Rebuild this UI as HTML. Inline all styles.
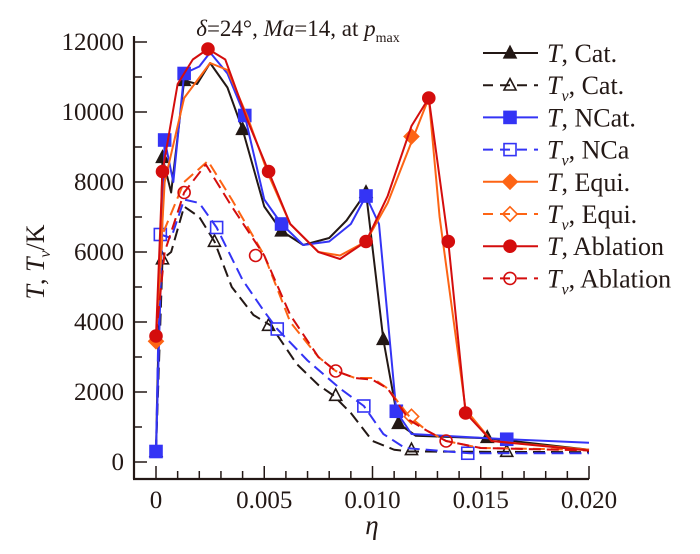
<!DOCTYPE html>
<html><head><meta charset="utf-8"><style>
html,body{margin:0;padding:0;background:#fff;}
svg, svg text, svg tspan{font-family:"Times New Roman","Liberation Serif",Times,"DejaVu Serif",serif !important;}
</style></head><body>
<svg id="chart" width="700" height="549" viewBox="0 0 700 549" xmlns="http://www.w3.org/2000/svg">
<text x="298" y="36" font-size="23" text-anchor="middle" fill="#231815"><tspan font-style="italic">δ</tspan>=24°, <tspan font-style="italic">Ma</tspan>=14, at <tspan font-style="italic">p</tspan><tspan font-size="14" dy="6">max</tspan></text>
<text transform="translate(44,262) rotate(-90)" font-size="26" text-anchor="middle" fill="#231815"><tspan font-style="italic">T</tspan>, <tspan font-style="italic">T</tspan><tspan font-style="italic" font-size="16" dy="6">v</tspan><tspan dy="-6">/K</tspan></text>
<text x="372" y="534" font-size="27" font-style="italic" text-anchor="middle" fill="#231815">η</text>
<g id="axes"></g><g id="series"></g><g id="legend"></g>
</svg>
<script>
const xTicks=[0,0.005,0.010,0.015,0.020];
const xTickLabels=["0","0.005","0.010","0.015","0.020"];
const yTicks=[0,2000,4000,6000,8000,10000,12000];
const yTickLabels=["0","2000","4000","6000","8000","10000","12000"];

const catEta=[0,0.0003,0.0007,0.0013,0.0019,0.0025,0.0033,0.0040,0.0050,0.0058,0.0068,0.0080,0.0088,0.0097,0.0105,0.0112,0.0120,0.0153,0.0200];
const catT=[300,8700,7700,10900,10800,11400,10700,9500,7300,6600,6200,6400,6900,7700,3500,1100,750,680,350];
const catMkEta=[0,0.0003,0.0013,0.0040,0.0058,0.0097,0.0105,0.0112,0.0153];
const catMkT=[300,8700,10900,9500,6600,7700,3500,1100,700];

const catVEta=[0,0.0003,0.0007,0.0013,0.0020,0.0027,0.0035,0.0045,0.0053,0.0065,0.0075,0.0082,0.0090,0.0100,0.0110,0.0117,0.0200];
const catTv=[300,5800,6000,7300,7000,6300,5000,4200,3900,2800,2200,1900,1400,600,350,300,280];
const catVMkEta=[0.0003,0.0027,0.0052,0.0083,0.0118,0.0162];
const catVMkT=[5800,6300,3900,1900,350,300];

const ncatEta=[0,0.0004,0.0008,0.0013,0.0020,0.0025,0.0033,0.0041,0.0050,0.0058,0.0068,0.0080,0.0090,0.0097,0.0103,0.0111,0.0118,0.0162,0.0200];
const ncatT=[300,9200,8000,11100,11300,11700,11100,9900,7500,6800,6200,6300,6800,7600,6800,1450,800,650,550];
const ncatMkEta=[0,0.0004,0.0013,0.0041,0.0058,0.0097,0.0111,0.0162];
const ncatMkT=[300,9200,11100,9900,6800,7600,1450,650];

const ncaVEta=[0,0.0002,0.0007,0.0013,0.0020,0.0028,0.0040,0.0050,0.0056,0.0070,0.0085,0.0096,0.0105,0.0115,0.0145,0.0200];
const ncaTv=[300,6500,6400,7500,7400,6700,5200,4300,3800,2900,2100,1600,800,400,250,250];
const ncaVMkEta=[0.0002,0.0028,0.0056,0.0096,0.0144];
const ncaVMkT=[6500,6700,3800,1600,250];

const equiEta=[0,0.0004,0.0013,0.0025,0.0033,0.0042,0.0052,0.0062,0.0075,0.0085,0.0097,0.0107,0.0119,0.0126,0.0131,0.0143,0.0155,0.0200];
const equiT=[3500,8000,10400,11400,11200,9900,8200,6800,6000,5900,6300,7400,9300,10400,7000,1500,600,350];
const equiMkEta=[0,0.0118];
const equiMkT=[3450,9300];

const equiVEta=[0,0.0003,0.0013,0.0024,0.0035,0.0050,0.0062,0.0075,0.0083,0.0092,0.0100,0.0107,0.0117,0.0125,0.0134,0.0150,0.0200];
const equiTv=[3500,6500,8000,8600,7500,5900,4000,3000,2600,2400,2400,2100,1300,900,600,400,350];
const equiVMkEta=[0.0118];
const equiVMkT=[1300];

const ablEta=[0,0.0003,0.0010,0.0017,0.0024,0.0032,0.0042,0.0052,0.0062,0.0075,0.0085,0.0097,0.0107,0.0118,0.0126,0.0135,0.0143,0.0155,0.0200];
const ablT=[3600,8300,10800,11500,11800,11500,9800,8300,6800,6000,5800,6300,7600,9600,10400,6300,1400,600,330];
const ablMkEta=[0,0.0003,0.0024,0.0052,0.0097,0.0126,0.0135,0.0143];
const ablMkT=[3600,8300,11800,8300,6300,10400,6300,1400];

const ablVEta=[0,0.0004,0.0013,0.0023,0.0035,0.0050,0.0062,0.0075,0.0083,0.0092,0.0100,0.0107,0.0117,0.0125,0.0134,0.0150,0.0200];
const ablTv=[3600,6000,7700,8500,7300,5900,4200,3000,2600,2400,2350,2100,1200,900,600,400,330];
const ablVMkEta=[0.0013,0.0046,0.0083,0.0134];
const ablVMkT=[7700,5900,2600,600];

const legendLabels=[["T",""," Cat."],["T","v"," Cat."],["T",""," NCat."],["T","v"," NCa"],["T",""," Equi."],["T","v"," Equi."],["T",""," Ablation"],["T","v"," Ablation"]];

const NS="http://www.w3.org/2000/svg";
const X0=156,X1=589,Y0=462,Y1=42;
function sx(v){return X0+(v-0)/(0.020-0)*(X1-X0);}
function sy(v){return Y0-(v-0)/(12000-0)*(Y0-Y1);}
function mk(tag,attrs,parent){const e=document.createElementNS(NS,tag);for(const k in attrs)e.setAttribute(k,attrs[k]);parent.appendChild(e);return e;}
const axes=document.getElementById('axes');
const INK="#231815";
const ySpine=mk('line',{x1:134,y1:36,x2:134,y2:479,stroke:INK,'stroke-width':2.2},axes);


const xSpine=mk('line',{x1:133,y1:479,x2:589,y2:479,stroke:INK,'stroke-width':2.2},axes);


for(let v=0;v<=0.0200001;v+=0.001){const major=Math.abs(v/0.005-Math.round(v/0.005))<1e-6;
 const t=mk('line',{x1:sx(v),y1:479,x2:sx(v),y2:479-(major?13:8),stroke:INK,'stroke-width':1.5},axes);
 
 }
xTicks.forEach((v,i)=>{const t=mk('text',{x:sx(v),y:508,'font-size':25,'text-anchor':'middle',fill:INK},axes);t.textContent=xTickLabels[i];
 
 });
for(let v=0;v<=12000;v+=1000){const major=v%2000===0;
 const t=mk('line',{x1:134,y1:sy(v),x2:134+(major?13:8),y2:sy(v),stroke:INK,'stroke-width':1.5},axes);
 
 }
yTicks.forEach((v,i)=>{const t=mk('text',{x:124,y:sy(v)+8,'font-size':25,'text-anchor':'end',fill:INK},axes);t.textContent=yTickLabels[i];
 
 });

function marker(g,type,fill,color,x,y,r){
 let e;
 if(type==='tri'){e=mk('polygon',{points:`${x},${y-r*1.1} ${x-r},${y+r*0.8} ${x+r},${y+r*0.8}`,fill:fill?color:'#fff','fill-opacity':fill?1:0,stroke:color,'stroke-width':1.6},g);}
 else if(type==='sq'){e=mk('rect',{x:x-r,y:y-r,width:2*r,height:2*r,fill:fill?color:'#fff','fill-opacity':fill?1:0,stroke:color,'stroke-width':1.6},g);}
 else if(type==='dia'){e=mk('polygon',{points:`${x},${y-r*1.2} ${x+r*1.2},${y} ${x},${y+r*1.2} ${x-r*1.2},${y}`,fill:fill?color:'#fff','fill-opacity':fill?1:0,stroke:color,'stroke-width':1.6},g);}
 else {e=mk('circle',{cx:x,cy:y,r:r,fill:fill?color:'#fff','fill-opacity':fill?1:0,stroke:color,'stroke-width':1.6},g);}
 return e;
}
const seriesDefs=[
 {name:'t-cat',ex:catEta,ey:catT,mx:catMkEta,my:catMkT,color:'#231815',dash:'',type:'tri',fill:true},
 {name:'tv-cat',ex:catVEta,ey:catTv,mx:catVMkEta,my:catVMkT,color:'#231815',dash:'12,6',type:'tri',fill:false},
 {name:'t-ncat',ex:ncatEta,ey:ncatT,mx:ncatMkEta,my:ncatMkT,color:'#3434f5',dash:'',type:'sq',fill:true},
 {name:'tv-nca',ex:ncaVEta,ey:ncaTv,mx:ncaVMkEta,my:ncaVMkT,color:'#3434f5',dash:'12,6',type:'sq',fill:false},
 {name:'t-equi',ex:equiEta,ey:equiT,mx:equiMkEta,my:equiMkT,color:'#fd6414',dash:'',type:'dia',fill:true},
 {name:'tv-equi',ex:equiVEta,ey:equiTv,mx:equiVMkEta,my:equiVMkT,color:'#fd6414',dash:'12,6',type:'dia',fill:false},
 {name:'t-ablation',ex:ablEta,ey:ablT,mx:ablMkEta,my:ablMkT,color:'#d40d0d',dash:'',type:'circ',fill:true},
 {name:'tv-ablation',ex:ablVEta,ey:ablTv,mx:ablVMkEta,my:ablVMkT,color:'#d40d0d',dash:'12,6',type:'circ',fill:false}
];
const sg=document.getElementById('series');
seriesDefs.forEach(s=>{
 const g=mk('g',{},sg);
 
 
 const pts=s.ex.map((v,i)=>sx(v)+','+sy(s.ey[i])).join(' ');
 const pl=mk('polyline',{points:pts,fill:'none',stroke:s.color,'stroke-width':2,'stroke-dasharray':s.dash,'stroke-linejoin':'round'},g);
 
 
 s.mx.forEach((v,i)=>{const m=marker(g,s.type,s.fill,s.color,sx(v),sy(s.my[i]),6);
  
  });
});
const lg=document.getElementById('legend');
seriesDefs.forEach((s,i)=>{
 const y=53+i*32.2;
 const g=mk('g',{},lg);
 
 
 mk('line',{x1:483,y1:y,x2:538,y2:y,stroke:s.color,'stroke-width':2,'stroke-dasharray':s.dash?'10,7':''},g);
 marker(g,s.type,s.fill,s.color,510,y,6);
 const t=mk('text',{x:547,y:y+9,'font-size':26,fill:INK},g);
 const L=legendLabels[i];
 let h=`<tspan font-style="italic">${L[0]}</tspan>`;
 if(L[1])h+=`<tspan font-style="italic" font-size="16" dy="7">${L[1]}</tspan><tspan dy="-7">,${L[2]}</tspan>`;else h+=`,${L[2]}`;
 t.innerHTML=h;
});
</script>
</body></html>
